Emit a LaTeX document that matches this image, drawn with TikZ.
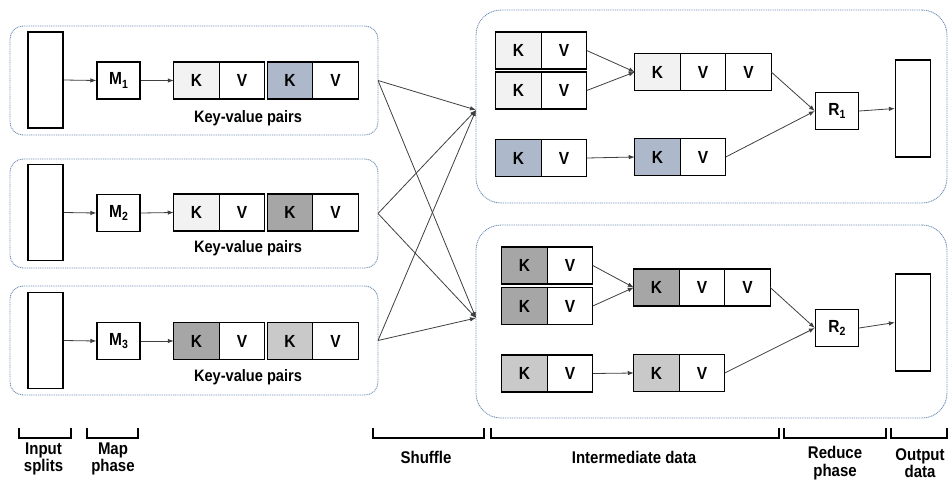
\documentclass[tikz,border=0pt]{standalone}
\usepackage{graphicx}
\usepackage{fontspec}
\setmainfont{Liberation Sans}
\usetikzlibrary{arrows.meta,calc}

\definecolor{kpale}{HTML}{F2F2F2}
\definecolor{kblue}{HTML}{ADB9CA}
\definecolor{kdark}{HTML}{A6A6A6}
\definecolor{klight}{HTML}{C9C9C9}
\definecolor{panelline}{HTML}{6F8FB8}
\definecolor{linkgrey}{HTML}{3F3F3F}

% slightly tall lettering
\newcommand\tall[1]{\scalebox{1}[1.13]{#1}}
% a key cell followed by a value cell
\newcommand\kvpair[4]{%
  \node[cell, fill=#4] (#1k) at (#2,#3) {\tall{K}};
  \node[cell, anchor=west] (#1v) at (#1k.east) {\tall{V}};}
\newcommand\idx[1]{\raisebox{-3pt}{\fontsize{10.5}{10.5}\selectfont #1}}

\begin{document}
\begin{tikzpicture}[x=1pt, y=-1pt,
  font=\bfseries\fontsize{15.5}{17}\selectfont,
  cell/.style={draw=black, line width=1.3pt, minimum width=45.5pt,
    minimum height=37pt, inner sep=0pt, outer sep=0pt},
  mapbox/.style={draw=black, line width=1.3pt, minimum width=43pt,
    minimum height=37pt, inner sep=0pt},
  datarect/.style={draw=black, line width=1.3pt, minimum width=35pt,
    minimum height=96pt, inner sep=0pt},
  lpanel/.style={draw=panelline, line width=0.9pt, dash pattern=on 1pt off 0.8pt,
    rounded corners=13pt, minimum width=368pt, minimum height=109pt,
    inner sep=0pt, outer sep=0pt},
  rpanel/.style={draw=panelline, line width=0.9pt, dash pattern=on 1pt off 0.8pt,
    rounded corners=25pt, minimum width=471pt, minimum height=193pt,
    inner sep=0pt, outer sep=0pt},
  link/.style={draw=linkgrey, line width=0.8pt, -{Latex[length=6pt,width=4.5pt]}},
  bracket/.style={draw=black, line width=1.4pt},
  pairs/.style={font=\bfseries\fontsize{14.6}{16}\selectfont},
  caption/.style={font=\bfseries\fontsize{15}{17.5}\selectfont, align=center}]

\useasboundingbox (0,0) rectangle (949,482);

% ---------- map side ----------
\node[lpanel] (lp1) at (194,80.5) {};
\node[lpanel] (lp2) at (194,213.5) {};
\node[lpanel] (lp3) at (194,340.5) {};

\node[datarect] (in1) at (45.5,80) {};
\node[datarect] (in2) at (45.5,212.5) {};
\node[datarect] (in3) at (45.5,340.5) {};

\node[mapbox] (m1) at (118.5,80.5) {\tall{M\idx{1}}};
\node[mapbox] (m2) at (118.5,213) {\tall{M\idx{2}}};
\node[mapbox] (m3) at (118.5,341) {\tall{M\idx{3}}};

\kvpair{a1}{196.5}{80.5}{kpale}
\kvpair{b1}{290}{80.5}{kblue}
\kvpair{a2}{196.5}{212.5}{kpale}
\kvpair{b2}{290}{212.5}{kdark}
\kvpair{a3}{196.5}{341}{kdark}
\kvpair{b3}{290}{341}{klight}

\node[pairs] (kv1) at (248,118) {\tall{Key-value pairs}};
\node[pairs] (kv2) at (248,248) {\tall{Key-value pairs}};
\node[pairs] (kv3) at (248,377) {\tall{Key-value pairs}};

\draw[link] (in1.east) -- (m1.west);
\draw[link] (in2.east) -- (m2.west);
\draw[link] (in3.east) -- (m3.west);
\draw[link] (m1.east) -- (a1k.west);
\draw[link] (m2.east) -- (a2k.west);
\draw[link] (m3.east) -- (a3k.west);

% ---------- reduce side ----------
\node[rpanel] (rp1) at (711.5,106.5) {};
\node[rpanel] (rp2) at (711.5,321.5) {};
\coordinate (in1r) at ($(rp1.west)+(0,3.5)$);
\coordinate (in2r) at ($(rp2.west)+(0,-3.5)$);

% partition 1
\kvpair{c1}{518.5}{50.5}{kpale}
\kvpair{c2}{518.5}{90.5}{kpale}
\kvpair{c3}{518.5}{158}{kblue}
\kvpair{g1}{657.5}{72}{kpale}
\node[cell, anchor=west] (g1w) at (g1v.east) {\tall{V}};
\kvpair{g2}{657.5}{157}{kblue}
\node[mapbox] (r1) at (837,111) {\tall{R\idx{1}}};
\node[datarect, minimum height=97pt] (out1) at (913,108.5) {};

\draw[link] (c1v.east) -- (g1k.west);
\draw[link] (c2v.east) -- (g1k.west);
\draw[link] (c3v.east) -- (g2k.west);
\draw[link] (g1w.east) -- (r1.west);
\draw[link] (g2v.east) -- (r1.west);
\draw[link] (r1.east) -- (out1.west);

% partition 2
\kvpair{d1}{524.5}{265.5}{kdark}
\kvpair{d2}{524.5}{306}{kdark}
\kvpair{d3}{524.5}{373.5}{klight}
\kvpair{h1}{656.5}{287.5}{kdark}
\node[cell, anchor=west] (h1w) at (h1v.east) {\tall{V}};
\kvpair{h2}{656.5}{373}{klight}
\node[mapbox] (r2) at (837,328) {\tall{R\idx{2}}};
\node[datarect, minimum height=97pt] (out2) at (913,322.5) {};

\draw[link] (d1v.east) -- (h1k.west);
\draw[link] (d2v.east) -- (h1k.west);
\draw[link] (d3v.east) -- (h2k.west);
\draw[link] (h1w.east) -- (r2.west);
\draw[link] (h2v.east) -- (r2.west);
\draw[link] (r2.east) -- (out2.west);

% ---------- shuffle ----------
\foreach \src in {lp1,lp2,lp3}{
  \draw[link] (\src.east) -- (in1r);
  \draw[link] (\src.east) -- (in2r);
}

% ---------- phase brackets ----------
\draw[bracket] (19,428) |- (71,438) -- (71,428);
\draw[bracket] (87,428) |- (138,438) -- (138,428);
\draw[bracket] (373,428) |- (484,438) -- (484,428);
\draw[bracket] (491,428) |- (779,438) -- (779,428);
\draw[bracket] (784,428) |- (886,438) -- (886,428);
\draw[bracket] (891,428) |- (947,438) -- (947,428);

\node[caption] (capin) at (43.5,459) {\tall{Input}\\\tall{splits}};
\node[caption] (capmap) at (113,459) {\tall{Map}\\\tall{phase}};
\node[caption] (capsh) at (426,457) {\tall{Shuffle}};
\node[caption] (capint) at (634,457) {\tall{Intermediate data}};
\node[caption] (capred) at (835,463) {\tall{Reduce}\\\tall{phase}};
\node[caption] (capout) at (920,463) {\tall{Output}\\\tall{data}};
\end{tikzpicture}
\end{document}
